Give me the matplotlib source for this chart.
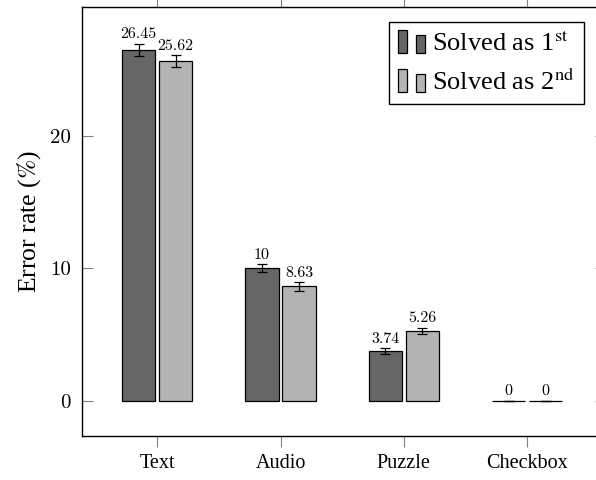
import numpy as np
import matplotlib
matplotlib.use("Agg")
import matplotlib.pyplot as plt
from matplotlib.patches import Rectangle
from matplotlib.legend_handler import HandlerBase

categories = ["Text", "Audio", "Puzzle", "Checkbox"]
solved_first = [26.45, 10, 3.74, 0]
solved_second = [25.62, 8.63, 5.26, 0]
err_first = [0.45, 0.29, 0.21, 0]
err_second = [0.43, 0.31, 0.22, 0]
series_labels = ["Solved as 1$^{\\mathrm{st}}$", "Solved as 2$^{\\mathrm{nd}}$"]
yticks = [0, 10, 20]

plt.rcParams["font.family"] = ["Liberation Serif", "DejaVu Serif"]
plt.rcParams["mathtext.fontset"] = "stix"

dark = "#666666"
light = "#b3b3b3"


class TwoBars(HandlerBase):
    # pgfplots style ybar legend: two little bars of different height
    def create_artists(self, legend, orig_handle, xdescent, ydescent,
                       width, height, fontsize, trans):
        fc = orig_handle.patches[0].get_facecolor()
        w = width * 0.32
        r1 = Rectangle((-xdescent, -ydescent - height * 0.1), w, height * 1.25,
                       facecolor=fc, edgecolor="black", lw=0.9, transform=trans)
        r2 = Rectangle((-xdescent + width * 0.68, -ydescent - height * 0.1), w, height * 0.95,
                       facecolor=fc, edgecolor="black", lw=0.9, transform=trans)
        return [r1, r2]


fig = plt.figure(figsize=(5.96, 4.8), dpi=100)
ax = fig.add_axes([82 / 596, 44 / 480, 524 / 596, 429 / 480])

x = np.arange(len(categories))
bw = 0.27
off = 0.15
ekw = dict(ecolor="black", elinewidth=0.9, capthick=0.9)
b1 = ax.bar(x - off, solved_first, bw, color=dark, edgecolor="black", linewidth=0.9,
            yerr=err_first, capsize=3.5, error_kw=ekw, label=series_labels[0])
b2 = ax.bar(x + off, solved_second, bw, color=light, edgecolor="black", linewidth=0.9,
            yerr=err_second, capsize=3.5, error_kw=ekw, label=series_labels[1])

for xs, vals, errs in [(x - off, solved_first, err_first), (x + off, solved_second, err_second)]:
    for xi, v, e in zip(xs, vals, errs):
        ax.annotate(f"{v:g}", (xi, v + e), xytext=(0, 2), textcoords="offset points",
                    ha="center", va="bottom", fontsize=11.5, family="cmr10")

ax.set_xlim(-0.61, 3.64)
ax.set_ylim(-2.65, 29.7)
ax.set_xticks(x)
ax.set_xticklabels(categories, fontsize=14.5)
ax.set_yticks(yticks)
ax.set_yticklabels([str(t) for t in yticks], fontsize=15, family="cmr10")
ax.tick_params(axis="x", direction="out", length=8, width=0.8, color="#808080",
               top=True, bottom=True, pad=5)
ax.tick_params(axis="y", direction="in", length=8, width=0.8, color="#808080",
               left=True, right=True, pad=8)
for s in ax.spines.values():
    s.set_linewidth(1.0)

ax.set_ylabel("Error rate ($\\%$)", fontsize=18.5, labelpad=5)

leg = ax.legend(handles=[b1, b2], labels=series_labels, handler_map={b1: TwoBars(), b2: TwoBars()},
                loc="upper right", bbox_to_anchor=(502 / 524, (429 - 15) / 429),
                bbox_transform=ax.transAxes, fontsize=19, frameon=True, fancybox=False,
                edgecolor="black", framealpha=1, handlelength=1.0, handleheight=0.7,
                handletextpad=0.3, borderpad=0.35, labelspacing=0.45, borderaxespad=0)
leg.get_frame().set_linewidth(1.0)

fig.savefig("out.png", dpi=100)
